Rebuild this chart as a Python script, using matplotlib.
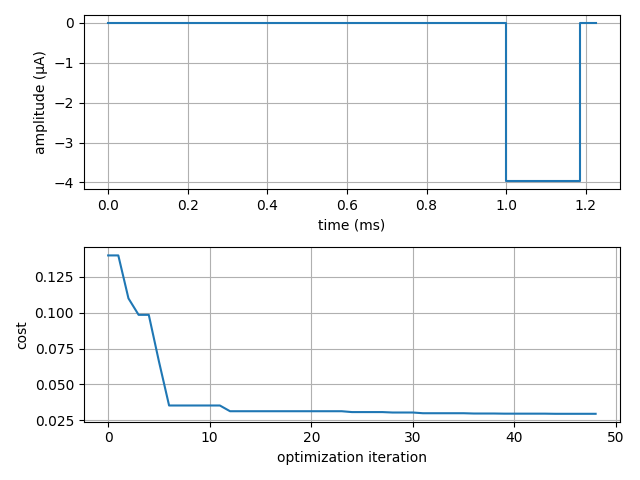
import matplotlib
matplotlib.use("Agg")
import matplotlib.pyplot as plt

# stimulus waveform (step points)
t_ms = [0.0, 1.0, 1.0, 1.185, 1.185, 1.225]
amp_uA = [0.0, 0.0, -3.97, -3.97, 0.0, 0.0]

# optimization cost per iteration
cost = [0.1400, 0.1400, 0.1100, 0.0985, 0.0985, 0.0660, 0.0352, 0.0352, 0.0352, 0.0352,
        0.0352, 0.0352, 0.0312, 0.0312, 0.0312, 0.0312, 0.0312, 0.0312, 0.0312, 0.0312,
        0.0312, 0.0312, 0.0312, 0.0312, 0.0306, 0.0306, 0.0306, 0.0306, 0.0303, 0.0303,
        0.0303, 0.0298, 0.0298, 0.0298, 0.0298, 0.0298, 0.0296, 0.0296, 0.0296, 0.0295,
        0.0295, 0.0295, 0.0295, 0.0295, 0.0294, 0.0294, 0.0294, 0.0294, 0.0294]

fig, (ax1, ax2) = plt.subplots(2, 1, figsize=(6.4, 4.8))
ax1.plot(t_ms, amp_uA)
ax1.set_xlabel("time (ms)")
ax1.set_ylabel("amplitude (μA)")
ax1.grid()

ax2.plot(range(len(cost)), cost)
ax2.set_xlabel("optimization iteration")
ax2.set_ylabel("cost")
ax2.grid()

plt.tight_layout()
plt.savefig("out.png", dpi=100)
